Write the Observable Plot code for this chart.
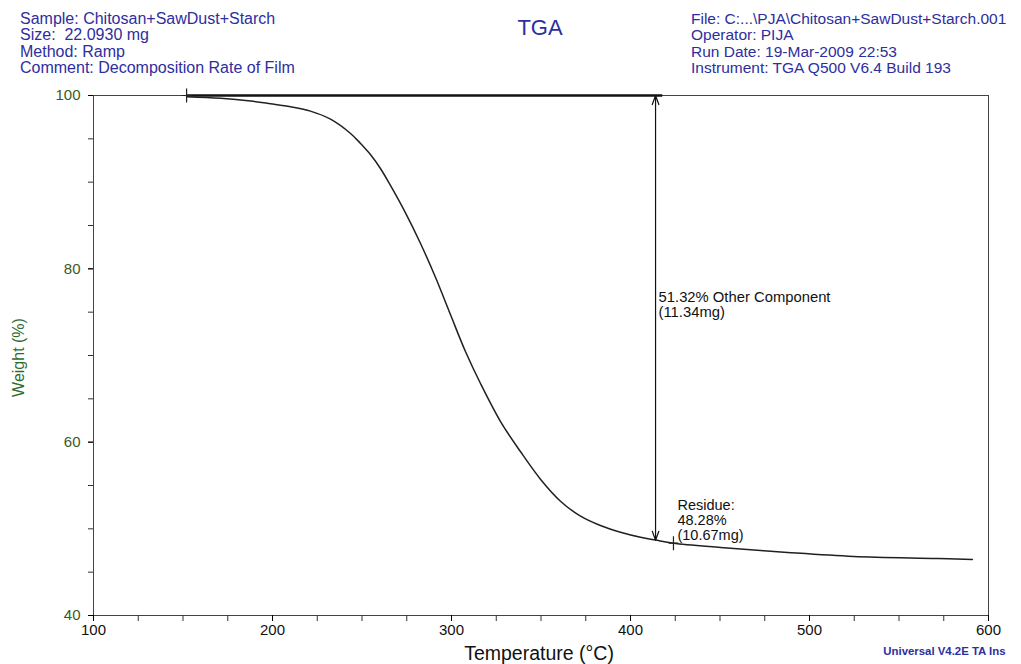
<!DOCTYPE html>
<html>
<head>
<meta charset="utf-8">
<script src="https://cdn.jsdelivr.net/npm/d3@7"></script>
<script src="https://cdn.jsdelivr.net/npm/@observablehq/plot@0.6"></script>
<style>
  body { margin: 0; background: #fff; }
  #page { position: relative; width: 1021px; height: 664px; font-family: "Liberation Sans", Arial, sans-serif; }
  #hdr { position: relative; width: 1021px; height: 85px; color: #2e2e9e; }
  .blk { position: absolute; top: 11px; line-height: 16.3px; white-space: nowrap; }
  #title { position: absolute; top: 17px; left: 540px; transform: translateX(-50%); font-size: 22px; line-height: 1; }
  svg { display: block; }
</style>
</head>
<body>
<div id="page">
  <div id="hdr">
    <div class="blk" style="left:20px;font-size:16px">Sample: Chitosan+SawDust+Starch<br>Size:&nbsp; 22.0930 mg<br>Method: Ramp<br>Comment: Decomposition Rate of Film</div>
    <div id="title">TGA</div>
    <div class="blk" style="left:691px;font-size:15.5px">File: C:...\PJA\Chitosan+SawDust+Starch.001<br>Operator: PIJA<br>Run Date: 19-Mar-2009 22:53<br>Instrument: TGA Q500 V6.4 Build 193</div>
  </div>
  <div id="chart"></div>
</div>
<script>
// TGA curve (temperature °C, weight %)
const temperatureC = [152, 171, 187.7, 198.9, 210.1, 221.2, 232.4, 243.6, 249.2, 254.7, 260.3, 265.9, 274.3, 282.7, 291.1, 299.4, 307.8, 316.2, 327.4, 338.5, 349.7, 360.9, 372.1, 383.2, 394.4, 405.6, 414, 424, 450.3, 487.7, 524.6, 571.5, 591];
const weightPct    = [99.86, 99.68, 99.37, 99.05, 98.7, 98.2, 97.27, 95.62, 94.46, 93.19, 91.58, 89.62, 86.45, 82.92, 79.0, 74.73, 70.46, 66.77, 62.38, 58.92, 55.73, 53.19, 51.46, 50.38, 49.61, 49.03, 48.7, 48.34, 47.85, 47.27, 46.81, 46.58, 46.46];

// step analysis
const stepStartT = 152, stepEndT = 414, residueT = 424;
const startW = 100, stepW = 48.68, residueW = 48.34;
const baselineEndT = 418;

// annotation labels
const stepLabel = ["51.32% Other Component", "(11.34mg)"];
const residueLabel = ["Residue:", "48.28%", "(10.67mg)"];

// ticks
const xMajor = [100, 200, 300, 400, 500, 600];
const xMinor = d3.range(100, 601, 25);
const yMajor = [40, 60, 80, 100];
const yMinor = d3.range(40, 101, 5);

const curve = temperatureC.map((t, i) => ({t, w: weightPct[i]}));
const crosses = [{t: stepStartT, w: startW}, {t: residueT, w: residueW}];
const mid = (startW + stepW) / 2;
const arrows = [
  {x1: stepEndT, y1: mid, x2: stepEndT, y2: startW},
  {x1: stepEndT, y1: mid, x2: stepEndT, y2: stepW}
];

const crossSymbol = {
  draw(ctx, size) {
    const r = Math.sqrt(size / Math.PI);
    ctx.moveTo(0, -r); ctx.lineTo(0, r);
    ctx.moveTo(-r * 0.7, 0); ctx.lineTo(r * 0.7, 0);
  }
};

const chart = Plot.plot({
  width: 1021,
  height: 579,
  marginTop: 10,
  marginBottom: 49,
  marginLeft: 93,
  marginRight: 33,
  style: {fontFamily: "'Liberation Sans', Arial, sans-serif", fontSize: "15px", background: "#fff"},
  x: {domain: [100, 600]},
  y: {domain: [40, 100]},
  marks: [
    Plot.frame({stroke: "#444", strokeWidth: 1}),
    Plot.axisX(xMinor, {tickSize: 6, tickFormat: () => "", label: null, stroke: "#333"}),
    Plot.axisX(xMajor, {tickSize: 6, tickPadding: 3, label: null, fill: "#111", fontSize: 15}),
    Plot.axisY(yMinor, {tickSize: 5, tickFormat: () => "", label: null, stroke: "#333"}),
    Plot.axisY(yMajor, {tickSize: 5, tickPadding: 8, label: null, fill: "#3a5a1e", fontSize: 15}),
    Plot.text(["Temperature (°C)"], {frameAnchor: "bottom", dx: -2, dy: 44, fontSize: 19.5, fill: "#111"}),
    Plot.text(["Weight (%)"], {frameAnchor: "left", textAnchor: "middle", dx: -75, dy: 2, rotate: -90, fontSize: 16, fill: "#2f6b2f"}),
    Plot.text(["Universal V4.2E TA Ins"], {frameAnchor: "bottom-right", textAnchor: "end", dx: 17, dy: 39, fontSize: 11.4, fontWeight: "bold", fill: "#2e2e9e"}),
    Plot.ruleY([startW], {x1: stepStartT, x2: baselineEndT, stroke: "#111", strokeWidth: 2.5}),
    Plot.line(curve, {x: "t", y: "w", stroke: "#1e221e", strokeWidth: 1.5, curve: "catmull-rom"}),
    Plot.arrow(arrows, {x1: "x1", y1: "y1", x2: "x2", y2: "y2", stroke: "#111", strokeWidth: 1.2, headLength: 12, headAngle: 40}),
    Plot.dot(crosses, {x: "t", y: "w", symbol: crossSymbol, r: 7, stroke: "#222", fill: "none", strokeWidth: 1.2}),
    Plot.text([stepLabel.join("\n")], {x: stepEndT, y: 77.4, dx: 3, textAnchor: "start", lineAnchor: "top", lineHeight: 1.03, fontSize: 14.8, fill: "#111"}),
    Plot.text([residueLabel.join("\n")], {x: residueT, y: 53.4, dx: 4, textAnchor: "start", lineAnchor: "top", lineHeight: 1.03, fontSize: 14.5, fill: "#111"})
  ]
});
document.getElementById("chart").appendChild(chart);
</script>
</body>
</html>
